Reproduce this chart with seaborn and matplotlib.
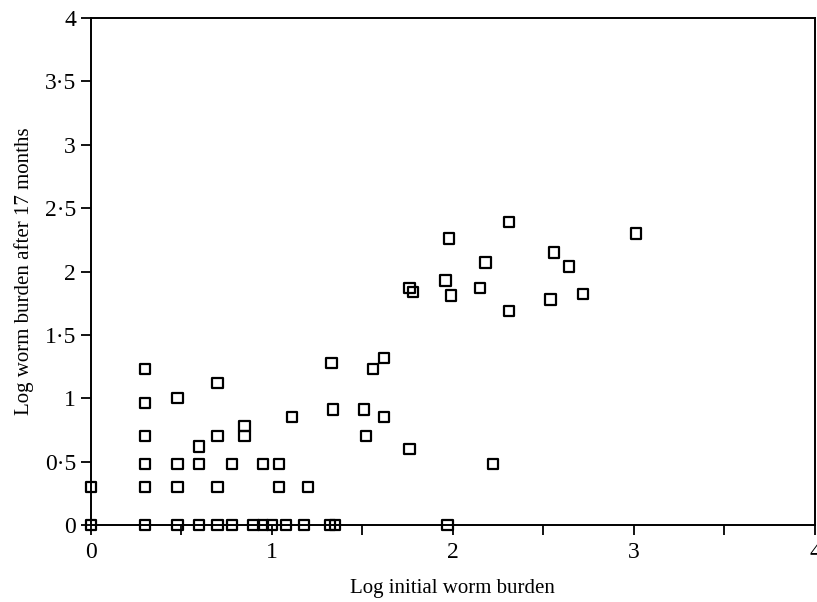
import matplotlib
matplotlib.use("Agg")
import matplotlib.pyplot as plt
import matplotlib.ticker as mticker
import pandas as pd
import seaborn as sns

# Log initial worm burden (x) and log worm burden after 17 months (y)
x_inicial = [
    0, 0.30, 0.48, 0.60, 0.70, 0.78, 0.90, 0.95, 1.00, 1.08, 1.18, 1.32, 1.35, 1.97,
    0, 0.30, 0.48, 0.70, 1.04, 1.20,
    0.30, 0.48, 0.60, 0.78, 0.95, 1.04, 2.22,
    0.60, 1.76,
    0.30, 0.70, 0.85, 1.52,
    0.85,
    1.11, 1.62,
    1.34, 1.51,
    0.30, 0.48, 0.70,
    0.30, 1.56, 1.33, 1.62,
    1.76, 1.78, 1.96, 1.99, 1.98,
    2.15, 2.18, 2.31, 2.31,
    2.54, 2.56, 2.64, 2.72, 3.01,
]
y_17meses = [
    0, 0, 0, 0, 0, 0, 0, 0, 0, 0, 0, 0, 0, 0,
    0.30, 0.30, 0.30, 0.30, 0.30, 0.30,
    0.48, 0.48, 0.48, 0.48, 0.48, 0.48, 0.48,
    0.62, 0.60,
    0.70, 0.70, 0.70, 0.70,
    0.78,
    0.85, 0.85,
    0.91, 0.91,
    0.96, 1.00, 1.12,
    1.23, 1.23, 1.28, 1.32,
    1.87, 1.84, 1.93, 1.81, 2.26,
    1.87, 2.07, 2.39, 1.69,
    1.78, 2.15, 2.04, 1.82, 2.30,
]

df = pd.DataFrame({"x": x_inicial, "y": y_17meses})

sns.set_style("ticks")
plt.rcParams["font.family"] = ["Liberation Serif", "DejaVu Serif"]
plt.rcParams["text.color"] = "black"
plt.rcParams["axes.labelcolor"] = "black"
plt.rcParams["xtick.color"] = "black"
plt.rcParams["ytick.color"] = "black"

fig = plt.figure(figsize=(8.17, 6.02), dpi=100)
ax = fig.add_axes([0.111, 0.128, 0.8865, 0.842])

sns.scatterplot(data=df, x="x", y="y", marker="s", s=55,
                facecolor="none", edgecolor="black", linewidth=1.6,
                ax=ax, clip_on=False, zorder=3)

ax.set_xlim(0, 4)
ax.set_ylim(0, 4)

ax.xaxis.set_major_locator(mticker.MultipleLocator(1))
ax.xaxis.set_minor_locator(mticker.MultipleLocator(0.5))
ax.yaxis.set_major_locator(mticker.MultipleLocator(0.5))

def fmt(v, pos):
    s = ("%g" % v)
    return s.replace(".", "\u00b7")

ax.xaxis.set_major_formatter(mticker.FuncFormatter(fmt))
ax.yaxis.set_major_formatter(mticker.FuncFormatter(fmt))

ax.tick_params(axis="both", which="both", direction="out", length=7,
               width=1.3, color="black", labelcolor="black", labelsize=17)
ax.tick_params(axis="x", pad=5)

for sp in ax.spines.values():
    sp.set_linewidth(1.4)
    sp.set_color("black")

ax.set_xlabel("Log initial worm burden", fontsize=15, labelpad=12, color="black")
ax.set_ylabel("Log worm burden after 17 months", fontsize=15, labelpad=8, color="black")

plt.savefig("out.png", dpi=100)
